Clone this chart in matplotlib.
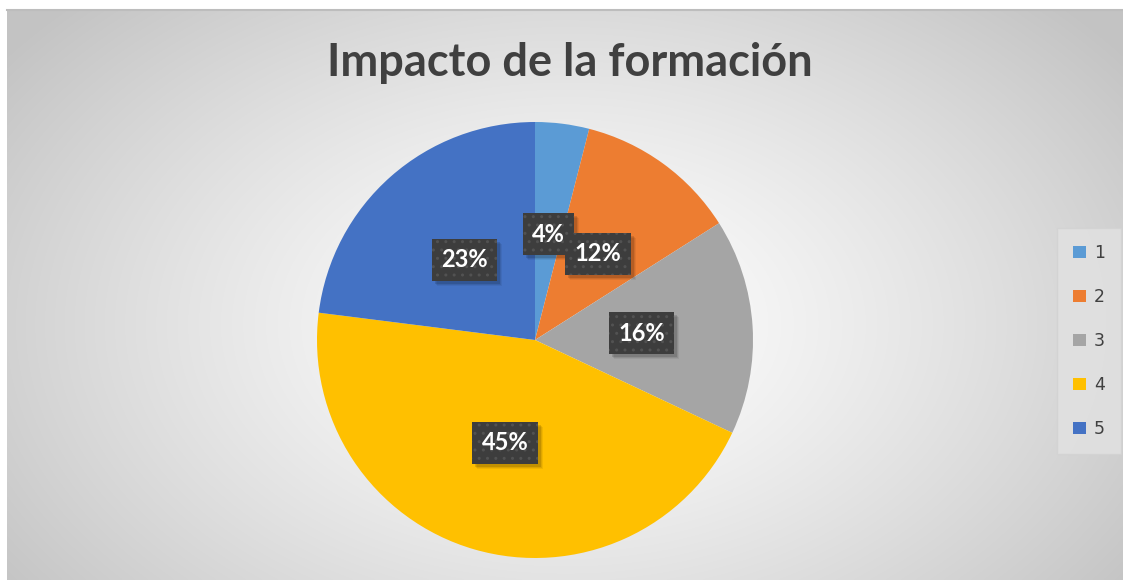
import matplotlib.pyplot as plt
import matplotlib.transforms as mtransforms
from matplotlib.patches import Rectangle
import numpy as np

categories = ["1", "2", "3", "4", "5"]
values = [4, 12, 16, 45, 23]
labels = ["4%", "12%", "16%", "45%", "23%"]
colors = ["#5B9BD5", "#ED7D31", "#A5A5A5", "#FFC000", "#4472C4"]

W, H = 1123, 580
fig = plt.figure(figsize=(W / 100, H / 100), dpi=100)
fig.patch.set_facecolor("white")

# radial gradient background of the chart area
bg = fig.add_axes([7 / W, 0, 1 - 7 / W, 570 / H])
ny, nx = 285, 560
yy, xx = np.mgrid[0:ny, 0:nx]
cx, cy = nx * 0.5, ny * 0.55
d = np.sqrt(((xx - cx) / (nx * 0.5)) ** 2 + ((yy - cy) / (ny * 0.5)) ** 2 * 0.6)
d = np.clip(d / 1.25, 0, 1)
g = 1.0 - 0.235 * d ** 1.3
bg.imshow(np.dstack([g, g, g]), aspect="auto", extent=[0, 1, 0, 1], interpolation="bilinear")
bg.set_xlim(0, 1)
bg.set_ylim(0, 1)
bg.axis("off")
bg.plot([0, 1], [1, 1], color="#bdbdbd", lw=1.5, transform=bg.transAxes, clip_on=False)

r = 218
cxp, cyp = 535, 580 - 340
ax = fig.add_axes([(cxp - r) / W, (cyp - r) / H, 2 * r / W, 2 * r / H])
wedges, texts = ax.pie(
    values,
    colors=colors,
    startangle=90,
    counterclock=False,
    labels=labels,
    labeldistance=0.49,
    wedgeprops=dict(linewidth=0),
    textprops=dict(color="white", fontsize=17, fontweight="bold", family="Lato", ha="center", va="center"),
)
for t in texts:
    t.set_bbox(dict(boxstyle="square,pad=0.4", facecolor="#3d3d3d", edgecolor="#525252", hatch="..", linewidth=0))
ax.set_xlim(-1, 1)
ax.set_ylim(-1, 1)

fig.text(570 / W, 1 - 63 / H, "Impacto de la formación", ha="center", va="center",
         fontsize=32.5, fontweight="bold", color="#404040", family="Lato")

leg = fig.legend(
    wedges, categories,
    loc="center", bbox_to_anchor=(1089 / W, 1 - 341 / H),
    frameon=True, fontsize=12.5, labelspacing=1.5, handlelength=0.75, handleheight=0.75,
    handletextpad=0.45, borderpad=0.6,
)
leg.get_frame().set_facecolor("#e2e2e2")
leg.get_frame().set_edgecolor("#d2d2d2")
leg.get_frame().set_boxstyle("square")
for txt in leg.get_texts():
    txt.set_color("#404040")

# soft drop shadow under the label boxes
fig.canvas.draw()
for t in texts:
    ext = t.get_bbox_patch().get_window_extent()
    for k, a in [(5, 0.06), (4, 0.08), (3, 0.12)]:
        ax.add_patch(Rectangle((ext.x0 + k, ext.y0 - k), ext.width, ext.height,
                               transform=mtransforms.IdentityTransform(),
                               facecolor="black", alpha=a, linewidth=0, zorder=t.get_zorder() - 0.1))

fig.savefig("out.png", dpi=100)
